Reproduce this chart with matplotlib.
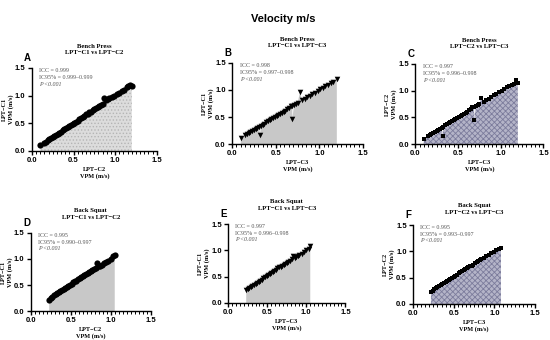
import numpy as np
import matplotlib.pyplot as plt
from matplotlib.ticker import MultipleLocator

plt.rcParams['hatch.linewidth'] = 0.6

# Panel A: bench press, LPT-C2 (x) vs LPT-C1 (y)
a_x = [0.10, 0.15, 0.17, 0.19, 0.21, 0.23, 0.25, 0.27, 0.29, 0.31, 0.33, 0.35, 0.37,
       0.39, 0.41, 0.43, 0.45, 0.47, 0.49, 0.51, 0.53, 0.55, 0.57, 0.59, 0.61, 0.63,
       0.65, 0.67, 0.69, 0.71, 0.73, 0.75, 0.77, 0.79, 0.81, 0.83, 0.85, 0.87, 0.89,
       0.91, 0.93, 0.96, 0.99, 1.02, 1.05, 1.08, 1.11, 1.14, 1.16, 1.18, 1.20]
a_y = [0.10, 0.15, 0.17, 0.19, 0.21, 0.23, 0.25, 0.27, 0.29, 0.31, 0.33, 0.35, 0.37,
       0.39, 0.41, 0.43, 0.45, 0.47, 0.49, 0.51, 0.53, 0.55, 0.57, 0.59, 0.61, 0.63,
       0.66, 0.67, 0.70, 0.71, 0.74, 0.75, 0.78, 0.79, 0.82, 0.84, 0.85, 0.95, 0.93,
       0.94, 0.96, 0.98, 1.00, 1.03, 1.05, 1.08, 1.11, 1.15, 1.18, 1.19, 1.18]

# Panel B: bench press, LPT-C3 (x) vs LPT-C1 (y)
b_x = [0.10, 0.15, 0.17, 0.19, 0.21, 0.23, 0.25, 0.27, 0.29, 0.31, 0.32, 0.33, 0.35,
       0.37, 0.39, 0.41, 0.43, 0.45, 0.47, 0.49, 0.51, 0.53, 0.55, 0.57, 0.59, 0.61,
       0.63, 0.65, 0.67, 0.69, 0.69, 0.71, 0.73, 0.75, 0.78, 0.80, 0.83, 0.86, 0.89,
       0.92, 0.95, 0.98, 1.01, 1.04, 1.07, 1.10, 1.13, 1.16, 1.20]
b_y = [0.11, 0.16, 0.18, 0.20, 0.22, 0.24, 0.26, 0.28, 0.30, 0.32, 0.17, 0.34, 0.36,
       0.38, 0.40, 0.42, 0.44, 0.46, 0.48, 0.50, 0.52, 0.54, 0.56, 0.58, 0.60, 0.62,
       0.64, 0.66, 0.70, 0.71, 0.47, 0.72, 0.74, 0.76, 0.97, 0.81, 0.84, 0.87, 0.89,
       0.93, 0.95, 0.98, 1.01, 1.04, 1.07, 1.10, 1.13, 1.15, 1.21]

# Panel C: bench press, LPT-C3 (x) vs LPT-C2 (y)
c_x = [0.10, 0.15, 0.17, 0.19, 0.21, 0.23, 0.25, 0.27, 0.29, 0.31, 0.32, 0.33, 0.35,
       0.37, 0.39, 0.41, 0.43, 0.45, 0.47, 0.49, 0.51, 0.53, 0.55, 0.57, 0.59, 0.61,
       0.63, 0.65, 0.67, 0.69, 0.69, 0.71, 0.73, 0.75, 0.77, 0.80, 0.83, 0.86, 0.89,
       0.92, 0.95, 0.98, 1.01, 1.04, 1.07, 1.10, 1.13, 1.16, 1.18, 1.20]
c_y = [0.10, 0.15, 0.17, 0.19, 0.21, 0.23, 0.25, 0.27, 0.29, 0.31, 0.16, 0.33, 0.35,
       0.37, 0.39, 0.41, 0.43, 0.45, 0.47, 0.49, 0.51, 0.53, 0.55, 0.57, 0.59, 0.61,
       0.63, 0.65, 0.69, 0.69, 0.46, 0.71, 0.73, 0.75, 0.86, 0.79, 0.82, 0.85, 0.89,
       0.92, 0.94, 0.97, 1.00, 1.03, 1.06, 1.09, 1.11, 1.13, 1.20, 1.15]

# Panel D: back squat, LPT-C2 (x) vs LPT-C1 (y)
d_x = [0.23, 0.25, 0.27, 0.29, 0.31, 0.33, 0.35, 0.37, 0.39, 0.41, 0.43, 0.45, 0.47,
       0.49, 0.51, 0.53, 0.55, 0.57, 0.59, 0.61, 0.63, 0.65, 0.67, 0.69, 0.71, 0.73,
       0.75, 0.77, 0.79, 0.81, 0.83, 0.85, 0.87, 0.89, 0.91, 0.94, 0.97, 1.00, 1.03, 1.05]
d_y = [0.22, 0.25, 0.27, 0.30, 0.32, 0.34, 0.36, 0.39, 0.40, 0.42, 0.44, 0.47, 0.48,
       0.51, 0.52, 0.55, 0.57, 0.58, 0.61, 0.63, 0.65, 0.67, 0.70, 0.71, 0.73, 0.75,
       0.77, 0.79, 0.80, 0.82, 0.93, 0.86, 0.87, 0.89, 0.92, 0.95, 0.97, 1.00, 1.05, 1.08]

# Panel E: back squat, LPT-C3 (x) vs LPT-C1 (y)
e_x = [0.23, 0.25, 0.27, 0.29, 0.31, 0.33, 0.35, 0.37, 0.39, 0.41, 0.43, 0.45, 0.47,
       0.49, 0.51, 0.53, 0.55, 0.57, 0.59, 0.61, 0.63, 0.65, 0.67, 0.69, 0.71, 0.73,
       0.75, 0.77, 0.79, 0.81, 0.83, 0.85, 0.87, 0.89, 0.91, 0.94, 0.97, 1.00, 1.03, 1.05]
e_y = [0.24, 0.26, 0.28, 0.30, 0.32, 0.34, 0.36, 0.38, 0.40, 0.42, 0.44, 0.47, 0.49,
       0.51, 0.53, 0.55, 0.57, 0.59, 0.61, 0.63, 0.66, 0.68, 0.69, 0.71, 0.73, 0.74,
       0.76, 0.78, 0.80, 0.83, 0.89, 0.85, 0.87, 0.89, 0.91, 0.94, 0.97, 1.00, 1.03, 1.08]

# Panel F: back squat, LPT-C3 (x) vs LPT-C2 (y)
f_x = [0.22, 0.24, 0.26, 0.28, 0.30, 0.32, 0.34, 0.36, 0.38, 0.40, 0.42, 0.44, 0.46,
       0.48, 0.50, 0.52, 0.54, 0.56, 0.58, 0.60, 0.62, 0.64, 0.66, 0.68, 0.70, 0.72,
       0.74, 0.76, 0.78, 0.80, 0.82, 0.84, 0.87, 0.90, 0.93, 0.96, 0.99, 1.02, 1.05, 1.08]
f_y = [0.23, 0.25, 0.28, 0.31, 0.33, 0.35, 0.37, 0.38, 0.40, 0.42, 0.44, 0.46, 0.48,
       0.50, 0.52, 0.54, 0.56, 0.58, 0.61, 0.63, 0.65, 0.66, 0.68, 0.70, 0.72, 0.73,
       0.75, 0.77, 0.79, 0.81, 0.83, 0.85, 0.88, 0.91, 0.93, 0.96, 0.99, 1.02, 1.05, 1.07]

exercises = ['Bench Press', 'Bench Press', 'Bench Press', 'Back Squat', 'Back Squat', 'Back Squat']
comparisons = ['LPT\u2212C1 vs LPT\u2212C2', 'LPT\u2212C1 vs LPT\u2212C3', 'LPT\u2212C2 vs LPT\u2212C3'] * 2
x_names = ['LPT\u2212C2', 'LPT\u2212C3', 'LPT\u2212C3'] * 2
y_names = ['LPT\u2212C1', 'LPT\u2212C1', 'LPT\u2212C2'] * 2
letters = ['A', 'B', 'C', 'D', 'E', 'F']
icc = ['0.999', '0.998', '0.997', '0.995', '0.997', '0.995']
ci95 = ['0.999\u20130.999', '0.997\u20130.998', '0.996\u20130.998',
        '0.990\u20130.997', '0.996\u20130.998', '0.993\u20130.997']
xs = [a_x, b_x, c_x, d_x, e_x, f_x]
ys = [a_y, b_y, c_y, d_y, e_y, f_y]

# layout (figure fractions) and styles
boxes = [[0.058, 0.556, 0.227, 0.244], [0.422, 0.576, 0.238, 0.239], [0.755, 0.576, 0.233, 0.236],
         [0.056, 0.085, 0.218, 0.23], [0.415, 0.109, 0.213, 0.232], [0.751, 0.106, 0.222, 0.232]]
title_y = [0.855, 0.875, 0.872, 0.37, 0.397, 0.385]
markers = ['o', 'v', 's', 'o', 'v', 's']
msizes = [20, 16, 8, 20, 16, 8]
fills = [dict(facecolor='#dcdcdc', hatch='.....', edgecolor='#b4b4b4'),
         dict(facecolor='#c8c8c8', edgecolor='none'),
         dict(facecolor='#b4b4c8', hatch='xxxxxx', edgecolor='#7c7c9c'),
         dict(facecolor='#c8c8c8', edgecolor='none'),
         dict(facecolor='#c8c8c8', edgecolor='none'),
         dict(facecolor='#b4b4c8', hatch='xxxxxx', edgecolor='#7c7c9c')]

fig = plt.figure(figsize=(5.5, 3.4), dpi=100)
fig.text(0.515, 0.945, 'Velocity m/s', ha='center', va='center',
         fontsize=8, fontweight='bold', family='Liberation Sans')

fmt = plt.FuncFormatter(lambda v, p: f'{v:.1f}')

for i in range(6):
    ax = fig.add_axes(boxes[i])
    x = np.array(xs[i])
    y = np.array(ys[i])
    order = np.argsort(x)
    ax.fill_between(x[order], 0, y[order], linewidth=0, **fills[i])
    ax.scatter(x, y, s=msizes[i], marker=markers[i], color='black', linewidths=0, zorder=3)

    ax.set_xlim(0, 1.5)
    ax.set_ylim(0, 1.5)
    ax.xaxis.set_major_locator(MultipleLocator(0.5))
    ax.yaxis.set_major_locator(MultipleLocator(0.5))
    ax.xaxis.set_minor_locator(MultipleLocator(0.05))
    ax.xaxis.set_major_formatter(fmt)
    ax.yaxis.set_major_formatter(fmt)
    for side in ['top', 'right']:
        ax.spines[side].set_visible(False)
    for side in ['left', 'bottom']:
        ax.spines[side].set_linewidth(1.0)
    ax.tick_params(which='major', length=3, width=1.0, labelsize=5.5, pad=1.5)
    ax.tick_params(which='minor', length=1.8, width=0.7)
    for lab in ax.get_xticklabels() + ax.get_yticklabels():
        lab.set_fontweight('bold')
        lab.set_family('Liberation Sans')

    ax.set_xlabel(x_names[i] + '\nVPM (m/s)', fontsize=4.5, fontweight='bold',
                  family='Liberation Serif', labelpad=2, linespacing=1.3)
    ax.set_ylabel(y_names[i] + '\nVPM (m/s)', fontsize=4.5, fontweight='bold',
                  family='Liberation Serif', labelpad=1, linespacing=1.3)

    ax.text(0.06, 1.0, 'ICC = ' + icc[i] + '\nIC95% = ' + ci95[i], transform=ax.transAxes,
            ha='left', va='top', fontsize=4.3, color='#555555', family='Liberation Serif',
            linespacing=1.45)
    ax.text(0.06, 0.83, 'P <0.001', transform=ax.transAxes, ha='left', va='top',
            fontsize=4.3, color='#555555', family='Liberation Serif', style='italic')

    bx, by, bw, bh = boxes[i]
    fig.text(bx + bw / 2, title_y[i], exercises[i] + '\n' + comparisons[i], ha='center',
             va='center', fontsize=4.8, fontweight='bold', family='Liberation Serif',
             linespacing=1.4)
    fig.text(bx - 0.008, by + bh + 0.03, letters[i], ha='center', va='center',
             fontsize=7, fontweight='bold', family='Liberation Sans')

fig.savefig('out.png', dpi=100)
